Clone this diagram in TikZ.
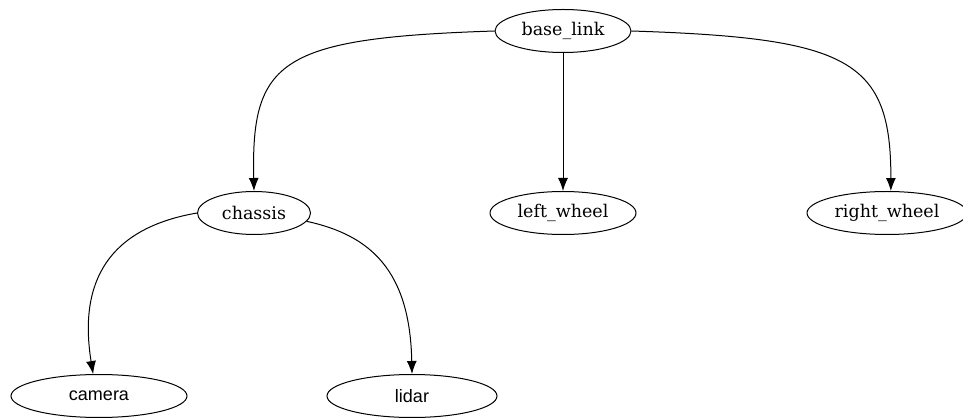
\documentclass[tikz,border=0pt]{standalone}
\usepackage{fontspec}
\setmainfont{DejaVu Serif}
\newfontfamily\labelsans{Liberation Sans}
\usetikzlibrary{arrows.meta,shapes.geometric}
\tikzset{%
    >={Latex[length=13pt,width=10pt]}
}

\begin{document}
\begin{tikzpicture}[x=1pt, y=-1pt,
  frame/.style={draw, ellipse, line width=1pt, inner sep=0pt, minimum height=43pt, font=\fontsize{17.5}{20}\selectfont},
  sansframe/.style={frame, font=\labelsans\fontsize{18}{21}\selectfont},
  link/.style={->, line width=1pt}]
  \useasboundingbox (0,0) rectangle (963,419);

  % frames of the tree
  \node[frame, minimum width=136pt] (base) at (563,31) {base\_link};
  \node[frame, minimum width=113pt] (chassis) at (254,213) {chassis};
  \node[frame, minimum width=146pt] (lwheel) at (563,213) {left\_wheel};
  \node[frame, minimum width=160pt] (rwheel) at (887,213) {right\_wheel};
  \node[sansframe, minimum width=176pt] (camera) at (99,396) {camera};
  \node[sansframe, minimum width=170pt] (lidar) at (412,396) {lidar};

  % parent -> child
  \draw[link] (base.west) .. controls (280,38) and (251,60) .. (chassis.north);
  \draw[link] (base) -- (lwheel);
  \draw[link] (base.east) .. controls (850,38) and (891,60) .. (rwheel.80);
  \draw[link] (chassis.west) .. controls (110,228) and (78,280) .. (camera.105);
  \draw[link] (chassis.-9) .. controls (370,235) and (410,270) .. (lidar.north);
\end{tikzpicture}
\end{document}
